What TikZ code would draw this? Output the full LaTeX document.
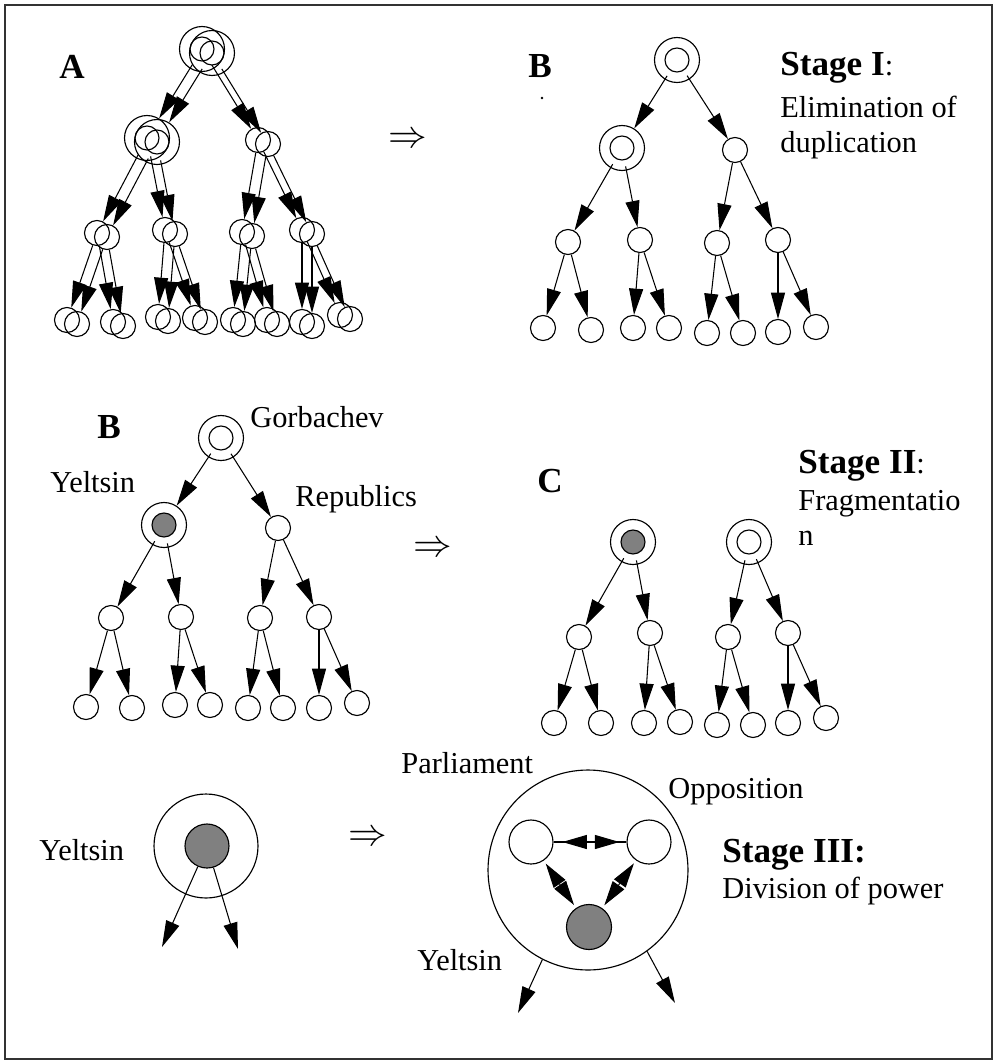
\documentclass[tikz,border=0pt]{standalone}
\usepackage{fontspec}
\setmainfont{Liberation Serif}
\usetikzlibrary{arrows.meta}
\definecolor{cCore}{HTML}{808080}
\definecolor{cFrame}{HTML}{333333}

\begin{document}
\begin{tikzpicture}[x=0.02cm, y=-0.02cm,
      ring/.style = {circle, draw, line width=0.65pt, minimum size=0.9cm, inner sep=0pt},
      core/.style = {circle, draw, line width=0.65pt, minimum size=0.48cm, inner sep=0pt},
      nd/.style   = {circle, draw, line width=0.65pt, minimum size=0.5cm, inner sep=0pt},
      yel/.style  = {core, fill=cCore},
      ar/.style   = {-{Triangle[length=15pt, width=8pt]}, line width=0.6pt},
      rg/.style   = {ar, shorten <=-2.5pt},
      dar/.style  = {{Triangle[length=14pt, width=8pt]}-{Triangle[length=14pt, width=8pt]}, line width=0.6pt},
      lbl/.style  = {inner sep=0pt, anchor=base west, font=\fontsize{17.3}{20}\selectfont},
      ttl/.style  = {inner sep=0pt, anchor=base west, font=\bfseries\fontsize{20}{24}\selectfont},
      imp/.style  = {inner sep=0pt} ]
    \useasboundingbox (0,0) rectangle (997,1062);
    \draw[line width=1.4pt, cFrame] (5,5) rectangle (992,1059);

    % stage I: the doubled tree A
    \node[ttl] (labA) at (59,78) {A};
    \foreach \dx/\dy in {0/0, 10/4} {
      \begin{scope}[shift={(\dx,\dy)}]
        \node[ring] (aR) at (202,49) {};  \node[core] at (202,49) {};
        \node[ring] (aL) at (147,138) {}; \node[core] at (147,138) {};
        \node[nd] (aM) at (258,140) {};
        \node[nd] (a1) at (97,233) {};  \node[nd] (a2) at (165,230) {};
        \node[nd] (a3) at (242,232) {}; \node[nd] (a4) at (302,230) {};
        \node[nd] (a1a) at (67,320) {};  \node[nd] (a1b) at (113,322) {};
        \node[nd] (a2a) at (158,317) {}; \node[nd] (a2b) at (195,318) {};
        \node[nd] (a3a) at (233,320) {}; \node[nd] (a3b) at (267,320) {};
        \node[nd] (a4a) at (302,322) {}; \node[nd] (a4b) at (340,315) {};
        \draw[rg] (aR) -- (aL);  \draw[rg] (aR) -- (aM);
        \draw[rg] (aL) -- (a1);  \draw[rg] (aL) -- (a2);
        \draw[ar] (aM) -- (a3);  \draw[ar] (aM) -- (a4);
        \draw[ar] (a1) -- (a1a); \draw[ar] (a1) -- (a1b);
        \draw[ar] (a2) -- (a2a); \draw[ar] (a2) -- (a2b);
        \draw[ar] (a3) -- (a3a); \draw[ar] (a3) -- (a3b);
        \draw[ar] (a4) -- (a4a); \draw[ar] (a4) -- (a4b);
      \end{scope}
    }
    \node[imp] (imp1) at (408,140) {\scalebox{2.2}{$\Rightarrow$}};

    % tree B, duplicates removed
    \node[ttl] (labB1) at (528,77) {B};
    \fill (542,98) circle (0.8pt);
    \node[ring] (bR) at (677,60) {};  \node[core] at (677,60) {};
    \node[ring] (bL) at (622,148) {}; \node[core] at (622,148) {};
    \node[nd] (bM) at (735,150) {};
    \node[nd] (b1) at (568,242) {}; \node[nd] (b2) at (640,240) {};
    \node[nd] (b3) at (717,243) {}; \node[nd] (b4) at (778,240) {};
    \node[nd] (b1a) at (543,328) {}; \node[nd] (b1b) at (591,330) {};
    \node[nd] (b2a) at (633,328) {}; \node[nd] (b2b) at (669,328) {};
    \node[nd] (b3a) at (707,333) {}; \node[nd] (b3b) at (743,333) {};
    \node[nd] (b4a) at (778,332) {}; \node[nd] (b4b) at (816,327) {};
    \draw[rg] (bR) -- (bL);  \draw[rg] (bR) -- (bM);
    \draw[rg] (bL) -- (b1);  \draw[rg] (bL) -- (b2);
    \draw[ar] (bM) -- (b3);  \draw[ar] (bM) -- (b4);
    \draw[ar] (b1) -- (b1a); \draw[ar] (b1) -- (b1b);
    \draw[ar] (b2) -- (b2a); \draw[ar] (b2) -- (b2b);
    \draw[ar] (b3) -- (b3a); \draw[ar] (b3) -- (b3b);
    \draw[ar] (b4) -- (b4a); \draw[ar] (b4) -- (b4b);
    \node[ttl] (st1) at (780,75) {Stage I\normalfont\fontsize{17.3}{20}\selectfont:};
    \node[lbl] (st1a) at (780,117) {Elimination of};
    \node[lbl] (st1b) at (780,152) {duplication};

    % stage II: Gorbachev's tree
    \node[ttl] (labB2) at (97,438) {B};
    \node[ring] (gR) at (221,438) {}; \node[core] at (221,438) {};
    \node[ring] (gY) at (164,525) {}; \node[yel] at (164,525) {};
    \node[nd] (gP) at (278,528) {};
    \node[nd] (g1) at (111,618) {}; \node[nd] (g2) at (181,617) {};
    \node[nd] (g3) at (260,618) {}; \node[nd] (g4) at (319,617) {};
    \node[nd] (g1a) at (86,707) {};  \node[nd] (g1b) at (132,708) {};
    \node[nd] (g2a) at (175,705) {}; \node[nd] (g2b) at (210,705) {};
    \node[nd] (g3a) at (248,708) {}; \node[nd] (g3b) at (283,708) {};
    \node[nd] (g4a) at (319,708) {}; \node[nd] (g4b) at (357,703) {};
    \draw[rg] (gR) -- (gY);  \draw[rg] (gR) -- (gP);
    \draw[rg] (gY) -- (g1);  \draw[rg] (gY) -- (g2);
    \draw[ar] (gP) -- (g3);  \draw[ar] (gP) -- (g4);
    \draw[ar] (g1) -- (g1a); \draw[ar] (g1) -- (g1b);
    \draw[ar] (g2) -- (g2a); \draw[ar] (g2) -- (g2b);
    \draw[ar] (g3) -- (g3a); \draw[ar] (g3) -- (g3b);
    \draw[ar] (g4) -- (g4a); \draw[ar] (g4) -- (g4b);
    \node[lbl] (gorb) at (250,427) {Gorbachev};
    \node[lbl] (yelt) at (50,492) {Yeltsin};
    \node[lbl] (repb) at (295,506) {Republics};
    \node[imp] (imp2) at (433,549) {\scalebox{2.2}{$\Rightarrow$}};

    % two separate trees C
    \node[ttl] (labC) at (537,492) {C};
    \node[ring] (cY) at (633,542) {}; \node[yel] at (633,542) {};
    \node[ring] (cO) at (749,542) {}; \node[core] at (749,542) {};
    \node[nd] (c1) at (579,637) {}; \node[nd] (c2) at (650,633) {};
    \node[nd] (c3) at (728,637) {}; \node[nd] (c4) at (788,633) {};
    \node[nd] (c1a) at (554,723) {}; \node[nd] (c1b) at (601,723) {};
    \node[nd] (c2a) at (644,723) {}; \node[nd] (c2b) at (680,722) {};
    \node[nd] (c3a) at (717,725) {}; \node[nd] (c3b) at (753,725) {};
    \node[nd] (c4a) at (788,723) {}; \node[nd] (c4b) at (826,718) {};
    \draw[rg] (cY) -- (c1);  \draw[rg] (cY) -- (c2);
    \draw[rg] (cO) -- (c3);  \draw[rg] (cO) -- (c4);
    \draw[ar] (c1) -- (c1a); \draw[ar] (c1) -- (c1b);
    \draw[ar] (c2) -- (c2a); \draw[ar] (c2) -- (c2b);
    \draw[ar] (c3) -- (c3a); \draw[ar] (c3) -- (c3b);
    \draw[ar] (c4) -- (c4a); \draw[ar] (c4) -- (c4b);
    \node[ttl] (st2) at (798,473) {Stage II\normalfont\fontsize{17.3}{20}\selectfont:};
    \node[lbl] (st2a) at (798,510) {Fragmentatio};
    \node[lbl] (st2b) at (798,545) {n};

    % stage III: Yeltsin alone, then with parliament and opposition
    \node[lbl] (yelt2) at (39,860) {Yeltsin};
    \node[nd, minimum size=2.08cm] (yBig) at (206,846) {};
    \node[yel, minimum size=0.88cm] (yCore) at (207,846) {};
    \coordinate (yo1) at (162,947); \coordinate (yo2) at (238,949);
    \draw[ar] (yCore) -- (yo1); \draw[ar] (yCore) -- (yo2);
    \node[imp] (imp3) at (368,838) {\scalebox{2.2}{$\Rightarrow$}};

    \node[nd, minimum size=4cm] (pBig) at (588,870) {};
    \node[nd, minimum size=0.88cm] (pPar) at (531,842) {};
    \node[nd, minimum size=0.88cm] (pOpp) at (649,842) {};
    \node[yel, minimum size=0.9cm] (pYel) at (589,927) {};
    \draw[line width=0.6pt] (pPar) -- (pOpp);
    \draw[dar, shorten <=5pt, shorten >=4pt] (pPar) -- (pOpp);
    \draw[dar, shorten <=2pt, shorten >=2pt] (pPar) -- (pYel);
    \draw[dar, shorten <=2pt, shorten >=2pt] (pOpp) -- (pYel);
    \coordinate (po1) at (518,1013); \coordinate (po2) at (675,1003);
    \draw[ar] (pBig.243) -- (po1); \draw[ar] (pBig.306) -- (po2);
    \node[lbl] (parl) at (401,773) {Parliament};
    \node[lbl] (oppo) at (668,798) {Opposition};
    \node[lbl] (yelt3) at (417,970) {Yeltsin};
    \node[ttl] (st3) at (722,862) {Stage III:};
    \node[lbl] (st3a) at (722,898) {Division of power};
  \end{tikzpicture}
\end{document}
